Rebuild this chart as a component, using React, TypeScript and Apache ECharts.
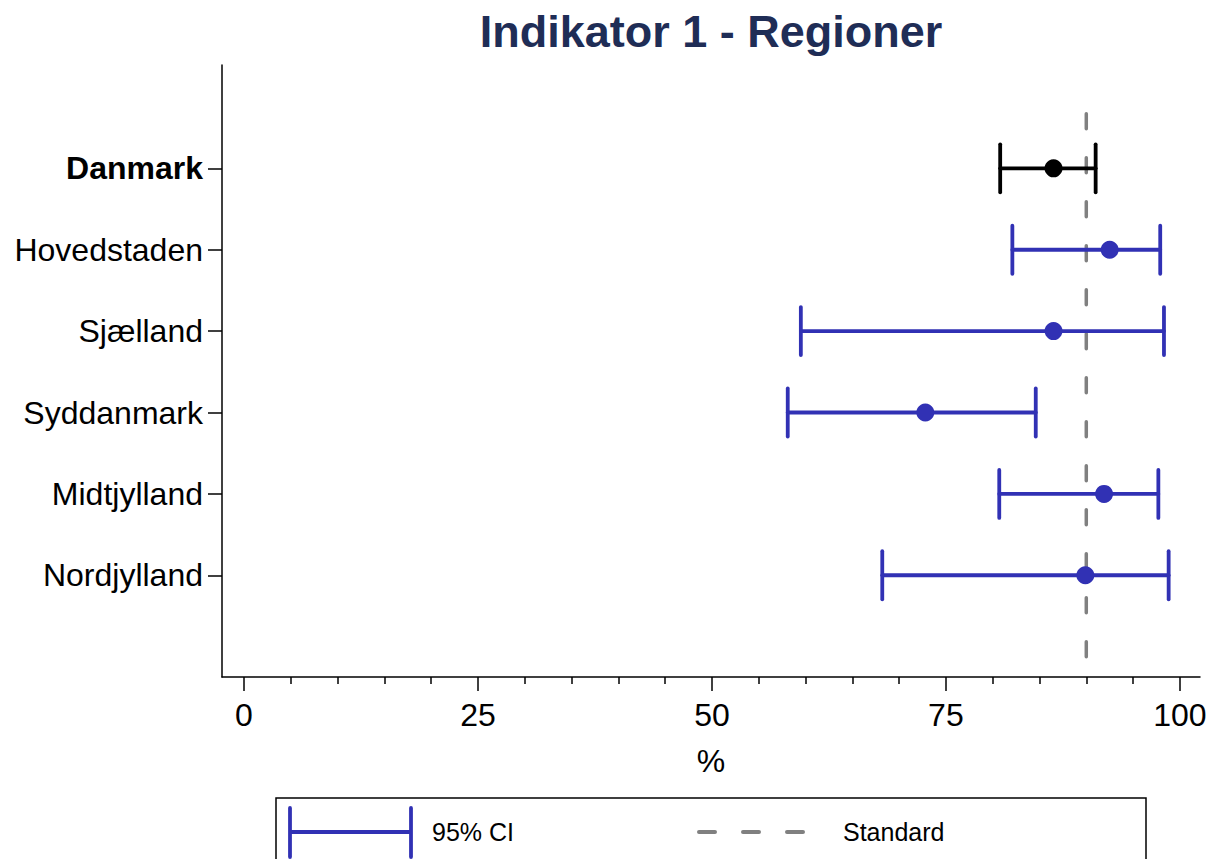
import React, { useEffect, useRef } from "react";
import * as echarts from "echarts";

// Categories from bottom (1) to top (6)
const categories = ["Nordjylland", "Midtjylland", "Syddanmark", "Sjælland", "Hovedstaden", "Danmark"];
const estimates = [89.9, 91.9, 72.8, 86.5, 92.5, 86.5];
const lowerCI = [68.2, 80.7, 58.1, 59.5, 82.1, 80.8];
const upperCI = [98.8, 97.7, 84.6, 98.3, 97.9, 91.0];
const standardValue = 90;
const majorTicks = [0, 25, 50, 75, 100];
const minorTicks = [5, 10, 15, 20, 30, 35, 40, 45, 55, 60, 65, 70, 80, 85, 90, 95];

const BLUE = "#3131b4";
const BLACK = "#000000";
const GRAY = "#808080";
const FONT = "'Liberation Sans', Arial, Helvetica, sans-serif";

export default function App() {
  const ref = useRef<HTMLDivElement>(null);
  useEffect(() => {
    document.body.style.margin = "0";
    const chart = echarts.init(ref.current!, null, { renderer: "svg" });
    const isTotal = (i: number) => categories[i] === "Danmark";
    const ciData = categories.map((_, i) => [lowerCI[i], upperCI[i], i + 1]);
    const pointData = categories.map((_, i) => ({
      value: [estimates[i], i + 1],
      itemStyle: { color: isTotal(i) ? BLACK : BLUE, opacity: 1 },
    }));
    const option: any = {
      animation: false,
      backgroundColor: "#ffffff",
      textStyle: { fontFamily: FONT },
      grid: { left: 222, right: 10, top: 65, bottom: 182, containLabel: false },
      xAxis: [
        {
          type: "value",
          min: -2.35,
          max: 102.15,
          position: "bottom",
          axisLine: { show: true, onZero: false, lineStyle: { color: "#000", width: 1.5 } },
          axisTick: { show: true, length: 14, customValues: majorTicks, lineStyle: { color: "#000", width: 1.5 } },
          axisLabel: { customValues: majorTicks, fontSize: 32, color: "#000", margin: 22, fontFamily: FONT },
          splitLine: { show: false },
          name: "%",
          nameLocation: "middle",
          nameGap: 68,
          nameTextStyle: { fontSize: 32, color: "#000", fontFamily: FONT },
        },
        {
          type: "value",
          min: -2.35,
          max: 102.15,
          position: "bottom",
          axisLine: { show: false, onZero: false },
          axisTick: { show: true, length: 7, customValues: minorTicks, lineStyle: { color: "#000", width: 1.5 } },
          axisLabel: { show: false },
          splitLine: { show: false },
        },
      ],
      yAxis: {
        type: "value",
        min: -0.25,
        max: 7.27,
        axisLine: { show: true, onZero: false, lineStyle: { color: "#000", width: 1.5 } },
        axisTick: { show: true, length: 14, customValues: [1, 2, 3, 4, 5, 6], lineStyle: { color: "#000", width: 1.5 } },
        axisLabel: {
          customValues: [1, 2, 3, 4, 5, 6],
          fontSize: 32,
          color: "#000",
          margin: 19,
          fontFamily: FONT,
          formatter: (v: number) => {
            const name = categories[Math.round(v) - 1];
            return name === "Danmark" ? "{b|" + name + "}" : name;
          },
          rich: { b: { fontWeight: "bold", fontSize: 32, color: "#000", fontFamily: FONT } },
        },
        splitLine: { show: false },
      },
      series: [
        {
          type: "line",
          data: [
            [standardValue, 0],
            [standardValue, 7],
          ],
          showSymbol: false,
          symbol: "none",
          lineStyle: { color: GRAY, width: 3.5, type: [15, 29], cap: "round" },
          z: 1,
        },
        {
          type: "custom",
          data: ciData,
          encode: { x: [0, 1], y: 2 },
          z: 2,
          renderItem: (params: any, api: any) => {
            const lo = api.coord([api.value(0), api.value(2)]);
            const hi = api.coord([api.value(1), api.value(2)]);
            const color = isTotal(params.dataIndex) ? BLACK : BLUE;
            const st = { stroke: color, lineWidth: 3.8, lineCap: "round" };
            const h = 24;
            return {
              type: "group",
              children: [
                { type: "line", shape: { x1: lo[0], y1: lo[1], x2: hi[0], y2: hi[1] }, style: st },
                { type: "line", shape: { x1: lo[0], y1: lo[1] - h, x2: lo[0], y2: lo[1] + h }, style: st },
                { type: "line", shape: { x1: hi[0], y1: hi[1] - h, x2: hi[0], y2: hi[1] + h }, style: st },
              ],
            };
          },
        },
        {
          type: "scatter",
          data: pointData,
          symbol: "circle",
          symbolSize: 18,
          itemStyle: { opacity: 1 },
          z: 3,
        },
      ],
      graphic: [
        {
          type: "text",
          x: 711,
          y: 31,
          style: {
            text: "Indikator 1 - Regioner",
            fontSize: 45,
            fontWeight: "bold",
            fill: "#1f2d56",
            fontFamily: FONT,
            textAlign: "center",
            textVerticalAlign: "middle",
          },
        },
        {
          type: "rect",
          shape: { x: 276, y: 798, width: 870, height: 100 },
          style: { fill: "none", stroke: "#000", lineWidth: 1.5 },
        },
        { type: "line", shape: { x1: 290, y1: 832, x2: 411, y2: 832 }, style: { stroke: BLUE, lineWidth: 3.8 } },
        { type: "line", shape: { x1: 290, y1: 808, x2: 290, y2: 857 }, style: { stroke: BLUE, lineWidth: 3.8, lineCap: "round" } },
        { type: "line", shape: { x1: 411, y1: 808, x2: 411, y2: 857 }, style: { stroke: BLUE, lineWidth: 3.8, lineCap: "round" } },
        {
          type: "text",
          x: 432,
          y: 832,
          style: { text: "95% CI", fontSize: 25, fill: "#000", fontFamily: FONT, textVerticalAlign: "middle" },
        },
        {
          type: "line",
          shape: { x1: 699, y1: 832, x2: 804, y2: 832 },
          style: { stroke: GRAY, lineWidth: 4, lineDash: [16, 28], lineCap: "round" },
        },
        {
          type: "text",
          x: 843,
          y: 832,
          style: { text: "Standard", fontSize: 25, fill: "#000", fontFamily: FONT, textVerticalAlign: "middle" },
        },
      ],
    };
    chart.setOption(option);
    return () => chart.dispose();
  }, []);
  return <div ref={ref} style={{ width: 1210, height: 859 }} />;
}
